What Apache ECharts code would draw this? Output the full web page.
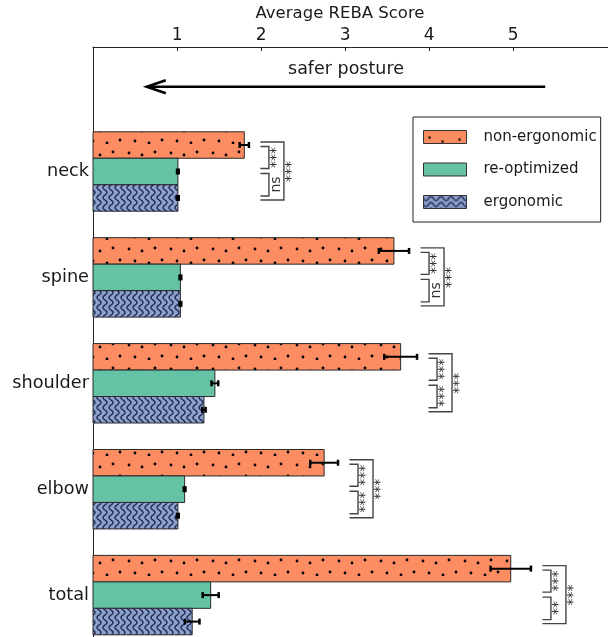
<!DOCTYPE html>
<html><head><meta charset="utf-8">
<script src="https://cdn.jsdelivr.net/npm/echarts@6/dist/echarts.min.js"></script>
<style>html,body{margin:0;padding:0;background:#fff}#c{width:608px;height:637px}</style>
</head><body><div id="c"></div>
<script>
// ---- data ----
const categories = ['neck', 'spine', 'shoulder', 'elbow', 'total'];
const seriesNames = ['non-ergonomic', 're-optimized', 'ergonomic'];
const nonErgonomic    = [1.80, 3.58, 3.66, 2.75, 4.97];
const nonErgonomicErr = [0.055, 0.18, 0.195, 0.165, 0.24];
const reOptimized     = [1.01, 1.04, 1.45, 1.09, 1.40];
const reOptimizedErr  = [0.01, 0.01, 0.04, 0.01, 0.095];
const ergonomic       = [1.01, 1.04, 1.32, 1.01, 1.18];
const ergonomicErr    = [0.01, 0.01, 0.02, 0.01, 0.087];
// significance markers per category
const sigNonVsRe   = ['***', '***', '***', '***', '***'];
const sigReVsErgo  = ['ns', 'ns', '***', '***', '**'];
const sigNonVsErgo = ['***', '***', '***', '***', '***'];
const xTicks = [1, 2, 3, 4, 5];
const catTicks = [0, 1, 2, 3, 4];
const xAxisTitle = 'Average REBA Score';
const arrowLabel = 'safer posture';
const arrowStart = 5.38, arrowEnd = 0.64, arrowLevel = -0.80;

// ---- styling ----
const FONT = 'DejaVu Sans';
const COLORS = ['#FC8D62', '#66C2A5', '#8DA0CB'];
const BAR = 0.25;              // bar thickness in category units
const OFFSETS = [-0.25, 0, 0.25];

function makeCanvas(w, h) { const c = document.createElement('canvas'); c.width = w; c.height = h; return c; }
function dotsPattern() {
  const c = makeCanvas(42, 24), g = c.getContext('2d');
  g.fillStyle = COLORS[0]; g.fillRect(0, 0, 42, 24);
  g.fillStyle = '#000';
  [[3, 9], [16, 11], [29, 8], [9, 21], [23, 23], [36, 20]].forEach(p => { g.beginPath(); g.arc(p[0], p[1], 1.4, 0, Math.PI * 2); g.fill(); });
  return { image: c, repeat: 'repeat' };
}
function legendDots() {
  const c = makeCanvas(43, 13), g = c.getContext('2d');
  g.fillStyle = COLORS[0]; g.fillRect(0, 0, 43, 13);
  g.fillStyle = '#000';
  [[6, 7], [19, 11], [36, 9]].forEach(p => { g.beginPath(); g.arc(p[0], p[1], 1.2, 0, Math.PI * 2); g.fill(); });
  return { image: c, repeat: 'repeat' };
}
function solidPattern() { return COLORS[1]; }
function wavesPattern(vertical) {
  const P = 10, S = 6;
  const w = vertical ? S : P, h = vertical ? P : S;
  const c = makeCanvas(w, h), g = c.getContext('2d');
  g.fillStyle = COLORS[2]; g.fillRect(0, 0, w, h);
  g.strokeStyle = '#1c2850'; g.lineWidth = 1.4;
  g.beginPath();
  for (let t = -1; t <= P + 1; t += 0.25) {
    const a = 3 + 2.0 * Math.sin(2 * Math.PI * t / P);
    const x = vertical ? a : t, y = vertical ? t : a;
    if (t === -1) g.moveTo(x, y); else g.lineTo(x, y);
  }
  g.stroke();
  return { image: c, repeat: 'repeat' };
}
const FILLS = [dotsPattern(), solidPattern(), wavesPattern(true)];
const LEGEND_FILLS = [legendDots(), solidPattern(), wavesPattern(false)];

const values = [nonErgonomic, reOptimized, ergonomic];
const errors = [nonErgonomicErr, reOptimizedErr, ergonomicErr];

function barRenderer(s) {
  return function (params, api) {
    const v = api.value(0), c = api.value(1), e = api.value(2);
    const yc = c + OFFSETS[s];
    const p0 = api.coord([0, yc - BAR / 2]);
    const p1 = api.coord([v, yc + BAR / 2]);
    const mid = api.coord([v, yc]);
    const xl = api.coord([v - e, yc])[0], xr = api.coord([v + e, yc])[0];
    const ec = { stroke: '#000', lineWidth: 2 };
    return { type: 'group', children: [
      { type: 'rect', shape: { x: p0[0], y: p0[1], width: p1[0] - p0[0], height: p1[1] - p0[1] },
        style: { fill: FILLS[s], stroke: '#2a2a2a', lineWidth: 1 } },
      { type: 'line', shape: { x1: xl, y1: mid[1], x2: xr, y2: mid[1] }, style: ec },
      { type: 'line', shape: { x1: xl, y1: mid[1] - 3, x2: xl, y2: mid[1] + 3 }, style: { stroke: '#000', lineWidth: 2.5 } },
      { type: 'line', shape: { x1: xr, y1: mid[1] - 3, x2: xr, y2: mid[1] + 3 }, style: { stroke: '#000', lineWidth: 2.5 } }
    ] };
  };
}

const barSeries = seriesNames.map((name, s) => ({
  type: 'custom', name: name, coordinateSystem: 'cartesian2d',
  itemStyle: { color: COLORS[s] },
  encode: { x: 0, y: 1 },
  renderItem: barRenderer(s),
  data: categories.map((cat, i) => [values[s][i], i, errors[s][i]])
}));

// bracket anchors = farthest error-bar end per category
const bracketData = categories.map((cat, i) => [Math.max(...values.map((arr, s) => arr[i] + errors[s][i])), i]);

function txt(x, y, t) {
  return { type: 'text', x: x, y: y, rotation: Math.PI / 2,
    style: { text: t, x: 0, y: 0, align: 'center', verticalAlign: 'middle', font: '14px "DejaVu Sans"', fill: '#333' } };
}
function bracket(x0, xv, y1, y2) {
  return { type: 'polyline', shape: { points: [[x0, y1], [xv, y1], [xv, y2], [x0, y2]] },
    style: { stroke: '#444', lineWidth: 1.4, fill: null } };
}
const bracketSeries = {
  type: 'custom', name: 'sig', coordinateSystem: 'cartesian2d', silent: true, clip: false,
  encode: { x: 0, y: 1 },
  renderItem: function (params, api) {
    const i = params.dataIndex;
    const p = api.coord([api.value(0), api.value(1)]);
    const x0 = p[0] + 11.5, yc = p[1];
    const xi = x0 + 8.5, xo = x0 + 23.5;
    return { type: 'group', children: [
      bracket(x0, xi, yc - 25, yc - 3),
      bracket(x0, xi, yc + 2, yc + 24.5),
      bracket(x0, xo, yc - 29.5, yc + 28.5),
      txt(x0 + 16, yc - 14, sigNonVsRe[i]),
      txt(x0 + 16, yc + 13, sigReVsErgo[i]),
      txt(x0 + 31, yc, sigNonVsErgo[i])
    ] };
  },
  data: bracketData
};

const arrowSeries = {
  type: 'custom', name: 'arrow', coordinateSystem: 'cartesian2d', silent: true, clip: false,
  encode: { x: [0, 1], y: 2 },
  renderItem: function (params, api) {
    const a = api.coord([api.value(0), api.value(2)]);
    const b = api.coord([api.value(1), api.value(2)]);
    return { type: 'group', children: [
      { type: 'line', shape: { x1: a[0], y1: a[1], x2: b[0] + 2, y2: b[1] }, style: { stroke: '#000', lineWidth: 2.6 } },
      { type: 'polyline', shape: { points: [[b[0] + 19, b[1] - 6.5], [b[0], b[1]], [b[0] + 19, b[1] + 6.5]] },
        style: { stroke: '#000', lineWidth: 2.6, fill: null } },
      { type: 'text', x: (a[0] + b[0]) / 2, y: a[1] - 17.5,
        style: { text: arrowLabel, align: 'center', verticalAlign: 'middle', font: '17.5px "DejaVu Sans"', fill: '#1a1a1a' } }
    ] };
  },
  data: [[arrowStart, arrowEnd, arrowLevel]]
};

const chart = echarts.init(document.getElementById('c'), null, { renderer: 'canvas' });
chart.setOption({
  animation: false,
  backgroundColor: '#fff',
  textStyle: { fontFamily: FONT },
  grid: { left: 93, right: 0, top: 47, bottom: 0, containLabel: false },
  graphic: [{
    type: 'text', x: 340, y: 14, silent: true,
    style: { text: xAxisTitle, align: 'center', verticalAlign: 'middle', font: '16.5px "DejaVu Sans"', fill: '#1a1a1a' }
  }],
  xAxis: {
    type: 'value', position: 'top', min: 0, max: 6.127,
    axisLine: { show: true, onZero: false, lineStyle: { color: '#222', width: 1 } },
    axisTick: { show: true, inside: true, length: 4, customValues: xTicks, lineStyle: { color: '#222' } },
    axisLabel: { customValues: xTicks, fontSize: 17, margin: 2.5, color: '#1a1a1a', fontFamily: FONT },
    splitLine: { show: false }
  },
  yAxis: {
    type: 'value', inverse: true, min: -1.1756, max: 4.3956,
    axisLine: { show: true, onZero: false, lineStyle: { color: '#222', width: 1 } },
    axisTick: { show: true, inside: true, length: 4, customValues: catTicks, lineStyle: { color: '#222' } },
    axisLabel: { customValues: catTicks, fontSize: 17.7, margin: 4, color: '#1a1a1a', fontFamily: FONT,
      formatter: v => categories[Math.round(v)] },
    splitLine: { show: false }
  },
  legend: {
    orient: 'vertical', left: 413, top: 117,
    padding: [12.5, 4, 12.5, 10], itemGap: 17.5,
    itemWidth: 43, itemHeight: 13, icon: 'rect',
    borderColor: '#222', borderWidth: 1, borderRadius: 0, backgroundColor: '#fff',
    textStyle: { fontSize: 15, lineHeight: 15, color: '#1a1a1a', fontFamily: FONT, padding: [0, 0, 0, 12] },
    selectedMode: false,
    data: seriesNames.map((n, s) => ({ name: n, icon: 'rect', itemStyle: { color: LEGEND_FILLS[s], borderColor: '#333', borderWidth: 1 } }))
  },
  series: barSeries.concat([bracketSeries, arrowSeries])
});
</script></body></html>
